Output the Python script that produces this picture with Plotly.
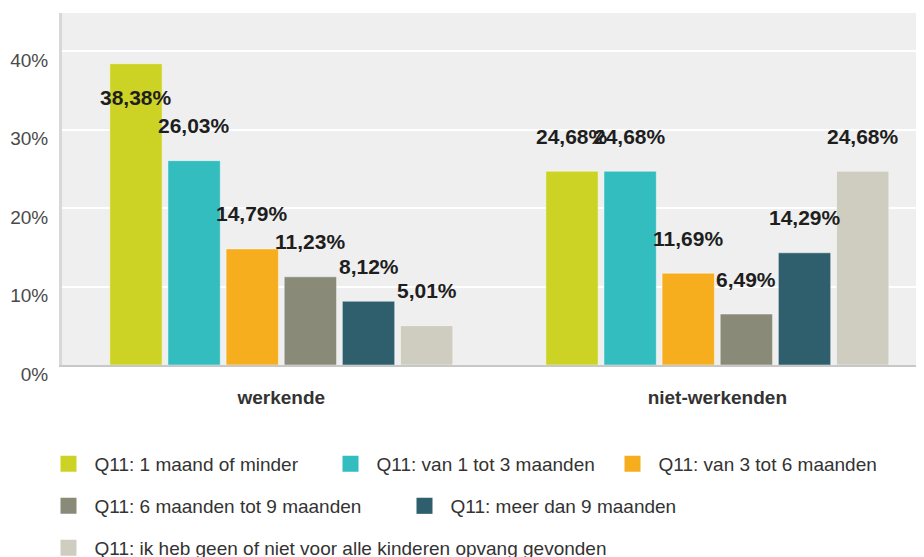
import plotly.graph_objects as go

categories = ["werkende", "niet-werkenden"]
series_names = [
    "Q11: 1 maand of minder",
    "Q11: van 1 tot 3 maanden",
    "Q11: van 3 tot 6 maanden",
    "Q11: 6 maanden tot 9 maanden",
    "Q11: meer dan 9 maanden",
    "Q11: ik heb geen of niet voor alle kinderen opvang gevonden",
]
werkende = [38.38, 26.03, 14.79, 11.23, 8.12, 5.01]
niet_werkenden = [24.68, 24.68, 11.69, 6.49, 14.29, 24.68]
colors = ["#CDD325", "#33BDBF", "#F6AE1F", "#898A78", "#2F5F6C", "#CFCDBF"]
legend_rows = ["legend", "legend", "legend", "legend2", "legend2", "legend3"]

FONT = "Liberation Sans, Arial, sans-serif"
OFF = 8  # default page body margin
W, H = 924 - OFF, 557 - OFF
BARGAP = 0.2
N = len(series_names)
slot = (1 - BARGAP) / N
xpos = list(range(len(categories)))

fig = go.Figure()
annotations = []
for i, name in enumerate(series_names):
    vals = [werkende[i], niet_werkenden[i]]
    fig.add_trace(go.Bar(
        x=xpos, y=vals, name=name, showlegend=False,
        marker=dict(color=colors[i], line=dict(color="rgba(255,255,255,0.45)", width=1)),
        hoverinfo="skip",
    ))
    # legend-only entry
    fig.add_trace(go.Scatter(
        x=[None], y=[None], mode="markers", name=name, legend=legend_rows[i],
        marker=dict(symbol="square", size=16, color=colors[i]),
    ))
    for j, v in enumerate(vals):
        annotations.append(dict(
            x=xpos[j] + (i - (N - 1) / 2) * slot, y=v, xref="x", yref="y",
            text="<b>" + f"{v:.2f}".replace(".", ",") + "%</b>",
            showarrow=False, yanchor="middle", xanchor="center",
            yshift=35 if v < 36 else -34,
            font=dict(family=FONT, size=21, color="#1e1e1e"),
        ))

legend_common = dict(
    orientation="h", xref="container", yref="container", xanchor="left", yanchor="middle",
    font=dict(family=FONT, size=19, color="#333333"), bgcolor="rgba(0,0,0,0)",
    itemclick=False, itemdoubleclick=False, itemwidth=42,
)

def ly(py):
    return 1 - (py - OFF) / H

LX = (42.5 - OFF) / W

fig.update_layout(
    width=W, height=H,
    margin=dict(l=62 - OFF, r=0, t=13 - OFF, b=557 - 365, pad=0),
    paper_bgcolor="white", plot_bgcolor="#EFEFEF",
    barmode="group", bargap=BARGAP, bargroupgap=0.1,
    annotations=annotations,
    font=dict(family=FONT),
    legend=dict(**legend_common, x=LX, y=ly(464), entrywidth=225),
    legend2=dict(**legend_common, x=LX, y=ly(506), entrywidth=299),
    legend3=dict(**legend_common, x=LX, y=ly(548)),
    xaxis=dict(
        range=[-0.503, 1.474], tickvals=xpos,
        ticktext=["<b>" + c + "</b>" for c in categories],
        tickfont=dict(family=FONT, size=19, color="#333333"),
        showgrid=False, zeroline=False, showline=True, linecolor="#C8C8C8", linewidth=2,
        ticks="", ticklabelstandoff=14,
    ),
    yaxis=dict(
        range=[0, 44.84], dtick=10, ticksuffix="%",
        tickfont=dict(family=FONT, size=19, color="#4a4a4a"),
        showgrid=True, gridcolor="white", gridwidth=2, zeroline=False,
        showline=True, linecolor="#D8D8D8", linewidth=3,
        ticks="", ticklabelstandoff=7, ticklabelshift=9,
    ),
)

fig.write_html("out.html")
